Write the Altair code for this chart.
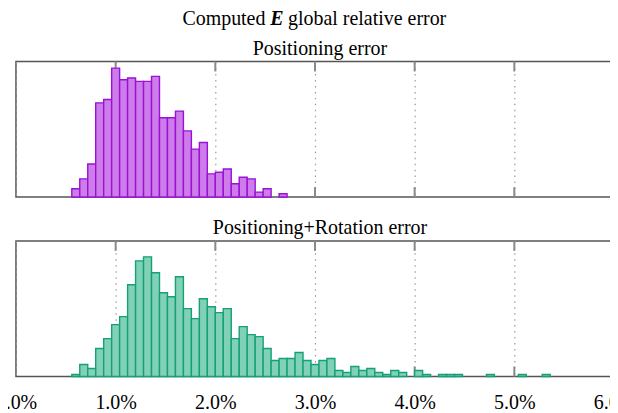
import altair as alt
import pandas as pd

# Histogram layout (bin edges in % units)
first_edge = 0.56
bin_width = 0.08

# Positioning error histogram counts
pos_counts = [5, 11, 20, 57, 59, 78, 71, 72, 70, 70, 73, 48, 48, 52, 40, 29, 33,
              14, 15, 17, 8, 12, 11, 3, 5, 0, 2]

# Positioning+Rotation error histogram counts
rot_counts = [1, 6, 4, 14, 19, 26, 30, 46, 58, 60,
              52, 42, 40, 50, 34, 29, 39, 35, 32, 34,
              19, 25, 21, 20, 14, 8, 9, 9, 12, 8,
              6, 8, 9, 3, 2, 5, 3, 4, 2, 1,
              3, 2, 0, 3, 1, 0, 1, 1, 1, 0,
              0, 0, 1, 0, 0, 0, 1, 0, 0, 1]

tick_values = [0, 1, 2, 3, 4, 5, 6]
inner_ticks = [1, 2, 3, 4, 5]

FONT = "Liberation Serif"
W, H = 600, 136


def hist_df(counts):
    rows = []
    for i, c in enumerate(counts):
        lo = round(first_edge + i * bin_width, 4)
        rows.append({"lo": lo, "hi": round(lo + bin_width, 4), "count": c, "zero": 0})
    df = pd.DataFrame(rows)
    return df[df["count"] > 0]


xscale = alt.Scale(domain=[0, 6], nice=False, zero=False)


def panel(counts, ymax, fill, stroke, show_labels, subtitle, extra_texts):
    df = hist_df(counts)
    axis = alt.Axis(
        values=tick_values, grid=True, gridDash=[1.5, 4.5], gridColor="#9a9a9a",
        gridWidth=1.2, ticks=False, domain=False, labels=show_labels,
        labelFlush=False, labelOverlap=False,
        labelExpr="format(datum.value, '.1f') + '%'", labelFont=FONT,
        labelFontSize=20, labelColor="#000", labelPadding=16, title=None,
    )
    tdf = pd.DataFrame({"x": inner_ticks})
    top_ticks = alt.Chart(tdf).mark_rule(color="#8a8a8a", strokeWidth=2).encode(
        x=alt.X("x:Q", scale=xscale, axis=axis), y=alt.value(0), y2=alt.value(10))
    bot_ticks = alt.Chart(tdf).mark_rule(color="#8a8a8a", strokeWidth=2).encode(
        x=alt.X("x:Q", scale=xscale), y=alt.value(H - 10), y2=alt.value(H))
    yscale = alt.Scale(domain=[0, ymax], nice=False)
    bars = alt.Chart(df).mark_bar(fill=fill, stroke=stroke, strokeWidth=1.4).encode(
        x=alt.X("lo:Q", scale=xscale),
        x2="hi:Q",
        y=alt.Y("count:Q", scale=yscale, axis=None),
        y2="zero:Q",
    )
    layers = [top_ticks, bot_ticks, bars]
    for (txt, x, y, align, weight, style) in [(subtitle, 305, -7, "center", "normal", "normal")] + extra_texts:
        layers.append(
            alt.Chart(pd.DataFrame({"t": [txt]})).mark_text(
                font=FONT, fontSize=20, align=align, baseline="alphabetic",
                fontWeight=weight, fontStyle=style, color="#000",
            ).encode(text="t:N", x=alt.value(x), y=alt.value(y))
        )
    return alt.layer(*layers).properties(width=W, height=H)


title_texts = [
    ("Computed", 167, -37, "left", "normal", "normal"),
    ("E", 255, -37, "left", "bold", "italic"),
    ("global relative error", 273, -37, "left", "normal", "normal"),
]

top = panel(pos_counts, 82, "#cd7ce9", "#9a12d6", False, "Positioning error", title_texts)
bottom = panel(rot_counts, 68, "#80d1b5", "#16a079", True, "Positioning+Rotation error", [])

chart = alt.vconcat(top, bottom, spacing=18).properties(
    padding={"left": -14, "top": -1, "right": -26, "bottom": 0}
).configure_view(stroke="#555", strokeWidth=1.5)

chart.save("out.html", embed_options={"renderer": "svg", "actions": False})
